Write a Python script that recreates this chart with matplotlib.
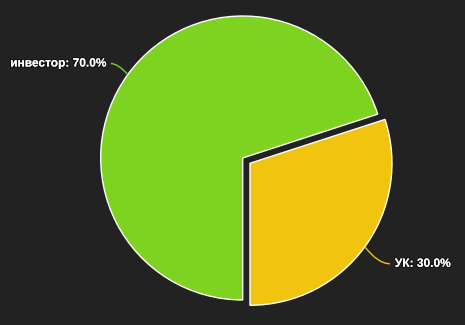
import numpy as np
import matplotlib
matplotlib.use("Agg")
import matplotlib.pyplot as plt
from matplotlib.path import Path
from matplotlib.patches import PathPatch
import matplotlib.patheffects as pe

labels = ["инвестор", "УК"]
values = [70.0, 30.0]
colors = ["#7ED321", "#F1C40F"]
explode_px = [0.0, 9.0]

W, H = 465, 325
fig = plt.figure(figsize=(W / 100, H / 100), dpi=100, facecolor="#222222")
ax = fig.add_axes([0, 0, 1, 1])
ax.set_facecolor("#222222")

cx, cy, R = 242.7, H - 158.0, 142.0
wedges, _ = ax.pie(values, colors=colors, explode=explode_px, startangle=18,
                   counterclock=True, center=(cx, cy), radius=R,
                   wedgeprops=dict(edgecolor="white", linewidth=1.0))
ax.set_xlim(0, W)
ax.set_ylim(0, H)
ax.set_aspect("equal")
ax.axis("off")

total = sum(values)
layout = [
    dict(end=(-17, 11), ctrl=(-10, 11), ha="right", tdx=-4),
    dict(end=(25, -17), ctrl=(13, -17), ha="left", tdx=5),
]
for w, lab, val, col, lay in zip(wedges, labels, values, colors, layout):
    ang = np.deg2rad((w.theta1 + w.theta2) / 2)
    wx, wy = w.center
    p0 = (wx + R * np.cos(ang), wy + R * np.sin(ang))
    p1 = (p0[0] + lay["ctrl"][0], p0[1] + lay["ctrl"][1])
    p2 = (p0[0] + lay["end"][0], p0[1] + lay["end"][1])
    path = Path([p0, p1, p2], [Path.MOVETO, Path.CURVE3, Path.CURVE3])
    ax.add_patch(PathPatch(path, facecolor="none", edgecolor=col, linewidth=1.0))
    t = ax.text(p2[0] + lay["tdx"], p2[1], f"{lab}: {val / total * 100:.1f}%",
                ha=lay["ha"], va="center", color="white", fontsize=8.6,
                fontweight="bold", family=["Liberation Sans", "DejaVu Sans"])
    t.set_path_effects([pe.withStroke(linewidth=1.6, foreground="#111111"), pe.Normal()])

fig.savefig("out.png", dpi=100, facecolor=fig.get_facecolor())
